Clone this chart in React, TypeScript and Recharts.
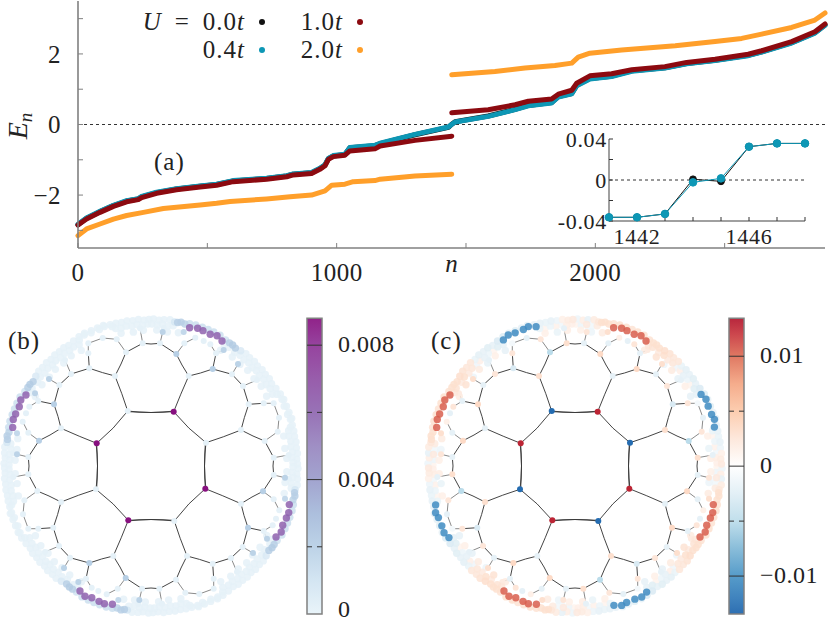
import {
  Area,
  ComposedChart,
  Legend,
  Line,
  ReferenceArea,
  ReferenceLine,
  Scatter,
  XAxis,
  YAxis,
} from 'recharts';

const FONT = '"Liberation Serif", serif';
const BLACK = '#111111';
const BLUE = '#0d97b5';
const RED = '#8c0a10';
const ORANGE = '#ff9f2a';
const GREY = '#808080';
const DARK = '#333333';

// panel (a): spectrum. null is the gap at half filling
const nU0 = [0, 33, 85, 137, 188, 233, 246, 304, 381, 472, 536, 600, 729, 807, 832, 903, 935, 955, 968, 987, 1032, 1051, 1148, 1168, 1303, 1432, 1444, 1458, 1586, 1690, 1741, 1831, 1857, 1909, 1928, 1979, 2063, 2141, 2269, 2353, 2463, 2591, 2643, 2759, 2849, 2888];
const eU0 = [-2.84, -2.66, -2.47, -2.3, -2.17, -2.11, -2.05, -1.93, -1.83, -1.75, -1.7, -1.6, -1.53, -1.46, -1.41, -1.37, -1.25, -1.15, -0.97, -0.89, -0.85, -0.66, -0.6, -0.54, -0.29, -0.08, 0, 0.08, 0.24, 0.43, 0.54, 0.62, 0.79, 0.88, 1.11, 1.3, 1.37, 1.52, 1.61, 1.73, 1.82, 1.96, 2.06, 2.32, 2.6, 2.82];
const eU04 = [-2.83, -2.65, -2.46, -2.29, -2.16, -2.1, -2.04, -1.92, -1.82, -1.74, -1.69, -1.59, -1.52, -1.45, -1.4, -1.36, -1.24, -1.14, -0.96, -0.88, -0.84, -0.65, -0.59, -0.53, -0.28, -0.07, 0, 0.07, 0.23, 0.42, 0.53, 0.61, 0.78, 0.87, 1.1, 1.29, 1.36, 1.51, 1.6, 1.72, 1.81, 1.95, 2.05, 2.31, 2.59, 2.81];
const nU1 = [0, 33, 85, 137, 188, 233, 246, 304, 381, 472, 536, 600, 729, 807, 832, 903, 935, 955, 968, 987, 1032, 1051, 1148, 1168, 1303, 1445, 1445, 1445, 1586, 1690, 1741, 1831, 1857, 1909, 1928, 1979, 2063, 2141, 2269, 2353, 2463, 2591, 2643, 2759, 2849, 2888];
const eU1 = [-2.85, -2.68, -2.49, -2.32, -2.19, -2.13, -2.07, -1.95, -1.85, -1.77, -1.72, -1.62, -1.55, -1.48, -1.43, -1.39, -1.27, -1.17, -0.99, -0.91, -0.87, -0.75, -0.69, -0.61, -0.45, -0.33, null, 0.33, 0.42, 0.56, 0.66, 0.72, 0.86, 0.97, 1.17, 1.38, 1.44, 1.55, 1.64, 1.76, 1.85, 1.99, 2.09, 2.35, 2.63, 2.85];
const nU2 = [0, 33, 85, 137, 188, 253, 330, 472, 536, 588, 729, 820, 903, 955, 981, 1032, 1064, 1148, 1168, 1303, 1445, 1445, 1445, 1612, 1728, 1844, 1909, 1934, 1979, 2102, 2309, 2463, 2566, 2643, 2759, 2849, 2888];
const eU2 = [-3.15, -2.96, -2.82, -2.68, -2.58, -2.49, -2.38, -2.28, -2.23, -2.18, -2.11, -2.05, -2.0, -1.88, -1.72, -1.69, -1.62, -1.59, -1.55, -1.46, -1.41, null, 1.41, 1.5, 1.6, 1.67, 1.74, 1.91, 2.02, 2.11, 2.23, 2.35, 2.44, 2.56, 2.75, 2.96, 3.16];

const mainXTicks = [0, 500, 1000, 1500, 2000, 2500];
const mainYTicks = [-3, -2, -1, 0, 1, 2, 3];

// inset of (a)
const insetN = [1441, 1442, 1443, 1444, 1445, 1446, 1447, 1448];
const insetU0 = [-0.0364, -0.0364, -0.0331, 0.0007, -0.0013, 0.0325, 0.0357, 0.0357];
const insetU04 = [-0.0364, -0.0364, -0.0331, -0.0023, 0.0016, 0.0325, 0.0357, 0.0357];
const insetXTicks = [1441, 1442, 1443, 1444, 1445, 1446, 1447, 1448];
const insetYTicks = [-0.04, -0.02, 0, 0.02, 0.04];

// lattice of (b) and (c): one quadrant, the picture repeats it under 90 degree turns
// [dx, dy, density, spin]
const latticeNodes = [
  [-23.3, -55, 0.0001, -0.0128],
  [-54.3, -22.7, 0.0088, 0.0128],
  [-36, -90, 0.0001, 0.003],
  [-90, -37.7, 0.0001, -0.002],
  [-61.7, -97.7, 0.0001, -0.003],
  [-25, -113.7, 0.0001, -0.005],
  [-97, -61.7, 0.002, 0.0035],
  [-112, -25.3, 0.002, 0.0035],
  [-8.3, -122.7, 0.0001, 0.003],
  [-122.7, -9, 0.0001, -0.002],
  [-62.7, -112.7, 0.0001, 0.0025],
  [-80, -92, 0.0001, 0.0025],
  [-91.7, -81, 0.0001, -0.002],
  [-112.7, -65, 0.0001, -0.002],
  [-122.7, -33.3, 0.0001, -0.002],
  [-134, -11.7, 0.0018, 0.0025],
  [-34.3, -126.7, 0.0001, 0.0025],
  [-11, -137.7, 0.0001, -0.002],
  [-48.3, -128, 0.0001, -0.002],
  [-62.7, -122.7, 0.0001, -0.001],
  [-86, -106, 0.0001, -0.002],
  [-102, -87, 0.0018, 0.003],
  [-116, -72.7, 0.0018, 0.002],
  [-121.7, -59.3, 0.0001, 0.0025],
  [-125, -52.7, 0.0001, -0.002],
  [-128.3, -44.3, 0.0001, 0.0015],
  [-134, -32.7, 0.0015, 0.003],
  [-138, -12.7, 0.0001, -0.001],
];

// rim of the disk: [angle from the left, radius, density, spin]
const rimNodes = [
  // outer row
  [1, 147, 0.0001, -0.0015], [3.2, 146, 0.0001, 0.0018], [5.1, 147, 0.0001, -0.002], [7.4, 147.5, 0.0001, 0.002],
  [9.3, 146, 0.0008, 0.0025], [10.5, 146, 0.002, 0.003], [11.8, 147, 0.002, 0.003], [13.4, 146, 0.0018, 0.003],
  [15.2, 147.5, 0.0012, 0.0028], [17.6, 148, 0.0012, 0.003], [20.3, 148, 0.0012, 0.003], [22.7, 148, 0.0012, 0.0028],
  [25.1, 148, 0.0012, 0.003], [27.8, 148, 0.0012, 0.003], [30.6, 146.5, 0.001, 0.0028], [32.5, 146, 0.002, 0.003],
  [34, 146, 0.0022, 0.003], [35.6, 145, 0.002, 0.003], [37.9, 146, 0.0006, 0.0032], [40.2, 147, 0.0001, 0.0028],
  [42.3, 146.5, 0.0001, 0.0025], [44.7, 147, 0.0001, 0.0025], [46.8, 146, 0.0001, -0.0018], [49.1, 147, 0.0001, -0.0022],
  [51.3, 146.5, 0.0001, -0.002], [53.6, 147, 0.0001, -0.0025], [55.7, 146, 0.0001, -0.002], [58.2, 147, 0.0001, -0.003],
  [60.9, 148, 0.0001, -0.0028], [63.4, 148.5, 0.0001, -0.002], [66.2, 148, 0.0001, -0.0025], [68.8, 148, 0.0001, -0.002],
  [71.3, 148.5, 0.0001, -0.0022], [73.9, 147, 0.0001, -0.002], [76.2, 147, 0.0001, -0.002], [78.4, 146.5, 0.0001, -0.0018],
  [80.6, 147, 0.0001, -0.002], [82.9, 146.5, 0.0001, -0.0015], [85.1, 147, 0.0001, 0.0015], [87.3, 146, 0.0001, 0.002],
  [89.2, 146.5, 0.0001, 0.0022],
  // second row
  [0.4, 142, 0.0001, 0.0012], [2.6, 141, 0.0001, -0.0015], [4.7, 142, 0.0001, 0.0022], [6.9, 141, 0.0001, -0.0012],
  [9, 142, 0.0001, 0.002], [31.4, 141, 0.0001, 0.0025], [33.2, 142, 0.0001, 0.0028], [36.4, 141, 0.0001, 0.0022],
  [38.8, 142, 0.0001, 0.003], [41.2, 141, 0.0001, 0.0022], [43.5, 142, 0.0001, 0.0025], [45.8, 141, 0.0001, -0.0014],
  [47.9, 142, 0.0001, 0.0016], [50.2, 141, 0.0001, -0.002], [52.4, 142, 0.0001, -0.0016], [54.8, 141, 0.0001, 0.0012],
  [57, 142, 0.0001, -0.0024], [59.4, 141, 0.0001, -0.002], [75.6, 142, 0.0001, -0.0018], [77.8, 141, 0.0001, 0.0012],
  [80, 142, 0.0001, -0.0016], [82.2, 141, 0.0001, 0.0014], [84.4, 142, 0.0001, -0.0012], [86.6, 141, 0.0001, 0.0018],
  [88.7, 142, 0.0001, 0.0016],
  // third row, broken by the last faces
  [2.4, 136, 0.0001, 0.0015], [7, 135, 0.0001, -0.0015], [11.6, 136, 0.0001, 0.002], [31, 135, 0.0001, 0.002],
  [36.7, 136, 0.0001, 0.0028], [41.2, 135, 0.0001, -0.0015], [45.3, 136, 0.0001, 0.002], [49.7, 135, 0.0001, -0.002],
  [54.1, 136, 0.0001, 0.0015], [58.9, 135, 0.0001, -0.002], [77.3, 136, 0.0001, 0.0015], [82.5, 135, 0.0001, -0.0018],
  [86.8, 136, 0.0001, 0.0018],
  // the bright clusters
  [29.6, 143.8, 0.0062, 0.0105], [26.9, 146, 0.0062, 0.0105], [24.2, 144.4, 0.0062, 0.0105],
  [21, 145, 0.0062, 0.0105], [18.7, 145.4, 0.0062, 0.0105], [15.6, 143.6, 0.0062, 0.0105],
  [60.4, 145, 0.0001, -0.0105], [63, 147, 0.0001, -0.0105], [65.8, 146, 0.0001, -0.0105],
  [69.3, 146, 0.0001, -0.0105], [71.5, 147, 0.0001, -0.0105], [74.4, 144.7, 0.0001, -0.0105],
];

// bonds of one quadrant as point lists [x1, y1, x2, y2, ...]; the long ones bow towards the centre
const innerBonds = [
  [-23.3, -55, -12, -53.9, 0, -53.5, 12, -53.9, 23.3, -55],
  [-23.3, -55, -37.9, -37.9, -54.3, -22.7],
  [-54.3, -22.7, -53.9, -12, -53.5, 0, -53.9, 12, -54.3, 22.7],
  [-23.3, -55, -29.2, -72.3, -36, -90],
  [-54.3, -22.7, -71.8, -29.8, -90, -37.7],
  [-36, -90, -48.5, -93.4, -61.7, -97.7],
  [-36, -90, -30, -102, -25, -113.7],
  [-90, -37.7, -93, -49.5, -97, -61.7],
  [-90, -37.7, -101, -31, -112, -25.3],
  [-25, -113.7, -8.3, -122.7],
  [-8.3, -122.7, 0, -122, 9, -122.7],
  [-112, -25.3, -122.7, -9],
  [-61.7, -97.7, -62.7, -112.7],
  [-61.7, -97.7, -80, -92],
  [-97, -61.7, -91.7, -81],
  [-97, -61.7, -112.7, -65],
  [-80, -92, -91.7, -81],
];
const outerBonds = [
  [-80, -92, -86, -106],
  [-91.7, -81, -102, -87],
  [-112, -25.3, -122.7, -33.3],
  [-112.7, -65, -121.7, -59.3],
  [-112.7, -65, -116, -72.7],
  [-122.7, -33.3, -128.3, -44.3],
  [-25, -113.7, -34.3, -126.7],
  [-34.3, -126.7, -48.3, -128],
  [-62.7, -112.7, -62.7, -122.7],
  [-62.7, -122.7, -48.3, -128],
  [-8.3, -122.7, -11, -137.7],
  [-122.7, -9, -134, -11.7],
];

// colour bars: [value, colour]
const densityStops = [
  [0, '#e7f3f9'], [0.001, '#d0e3f1'], [0.002, '#b7cfe5'], [0.003, '#a5b9da'], [0.004, '#9a9ccb'],
  [0.005, '#9785bf'], [0.006, '#8f66b0'], [0.007, '#8f4fa4'], [0.008, '#8d3396'], [0.0088, '#87107f'],
];
const spinStops = [
  [-0.01345, '#1b62ab'], [-0.012, '#2f78b8'], [-0.01, '#4793c5'], [-0.0075, '#7fb7d6'], [-0.005, '#bbdcea'],
  [-0.0025, '#e0eef5'], [0, '#ffffff'], [0.0025, '#fde6d9'], [0.005, '#fcc9a9'], [0.0075, '#f4a582'],
  [0.01, '#dd6d55'], [0.012, '#c8373e'], [0.01345, '#b2142c'],
];

const zip = (xs: number[], ys: (number | null)[], k = 'n') => xs.map((x, i) => ({ [k]: x, e: ys[i] }));

const hex = (c: string) => [1, 3, 5].map((i) => parseInt(c.slice(i, i + 2), 16));

function colorOf(v: number, stops: any[]) {
  if (v <= stops[0][0]) return stops[0][1];
  for (let i = 1; i < stops.length; i++) {
    if (v <= stops[i][0]) {
      const t = (v - stops[i - 1][0]) / (stops[i][0] - stops[i - 1][0]);
      const a = hex(stops[i - 1][1]);
      const b = hex(stops[i][1]);
      return `rgb(${a.map((p, j) => Math.round(p + (b[j] - p) * t)).join(',')})`;
    }
  }
  return stops[stops.length - 1][1];
}

const turn = (x: number, y: number, k: number) =>
  k === 0 ? [x, y] : k === 1 ? [-y, x] : k === 2 ? [-x, -y] : [y, -x];

const bondRows = (bonds: number[][]) =>
  [0, 1, 2, 3].flatMap((k) =>
    bonds.flatMap((bond) => {
      const rows: { x: number; y: number | null }[] = [];
      for (let i = 0; i < bond.length; i += 2) {
        const [x, y] = turn(bond[i], bond[i + 1], k);
        rows.push({ x, y });
      }
      rows.push({ x: rows[rows.length - 1].x, y: null });
      return rows;
    }),
  );

const nodeRows = (column: number, stops: any[]) => {
  const rim = rimNodes.map(([th, r, b, c]) => {
    const a = (th * Math.PI) / 180;
    return { x: -r * Math.cos(a), y: -r * Math.sin(a), v: column === 2 ? b : c, r: 3.7, rim: true };
  });
  const inner = latticeNodes.map(([x, y, b, c]) => ({ x, y, v: column === 2 ? b : c, r: 3, rim: false }));
  const quadrant = [...rim, ...inner];
  return [0, 1, 2, 3]
    .flatMap((k) =>
      quadrant.map((p) => {
        const [x, y] = turn(p.x, p.y, k);
        return { ...p, x, y, fill: colorOf(p.v, stops) };
      }),
    )
    .sort((p, q) => Math.abs(p.v) - Math.abs(q.v));
};

const tickStyle = { fontFamily: FONT, fontSize: 25, fill: '#222', letterSpacing: 0.5 };

const minus = (v: number) => String(v).replace('-', '\u2212');

function LegendBox({ payload }: any) {
  const spots = [
    { right: 245, dot: 262, top: 22 },
    { right: 245, dot: 262, top: 49.5 },
    { right: 343, dot: 360, top: 22 },
    { right: 343, dot: 360, top: 49.5 },
  ];
  return (
    <div style={{ position: 'relative', fontFamily: FONT, fontSize: 25, color: '#222', letterSpacing: 1 }}>
      {(payload || []).map((entry: any, i: number) => (
        <div key={entry.value}>
          <div
            style={{
              position: 'absolute',
              left: spots[i].right - 140,
              width: 140,
              top: spots[i].top - 15,
              lineHeight: '30px',
              textAlign: 'right',
              whiteSpace: 'nowrap',
            }}
          >
            {i === 0 ? (
              <>
                <i>U</i>
                <span style={{ margin: '0 13px' }}>=</span>
              </>
            ) : null}
            {entry.value.slice(0, -1)}
            <i>t</i>
          </div>
          <div
            style={{
              position: 'absolute',
              left: spots[i].dot - 3,
              top: spots[i].top - 3,
              width: 6,
              height: 6,
              borderRadius: 3,
              background: entry.color,
            }}
          />
        </div>
      ))}
    </div>
  );
}

function MainPanel() {
  return (
    <div style={{ position: 'absolute', left: 0, top: 0 }}>
      <ComposedChart width={830} height={300} margin={{ top: 1, right: 5, bottom: 0, left: 0 }}>
        <XAxis
          xAxisId="b"
          dataKey="n"
          type="number"
          domain={[0, 2888]}
          ticks={mainXTicks}
          interval={0}
          height={52}
          tickSize={-5}
          tickMargin={20}
          tick={tickStyle}
          tickLine={{ stroke: GREY }}
          axisLine={{ stroke: GREY, strokeWidth: 1.6 }}
          tickFormatter={(v: number) => (v % 1000 === 0 ? String(v) : '')}
          label={{
            value: 'n',
            position: 'insideBottom',
            offset: 28,
            style: { fontFamily: FONT, fontSize: 25, fontStyle: 'italic', fill: '#222' },
          }}
        />
        <XAxis
          xAxisId="t"
          orientation="top"
          dataKey="n"
          type="number"
          domain={[0, 2888]}
          ticks={mainXTicks}
          interval={0}
          height={0}
          tickSize={-5}
          tick={false}
          tickLine={{ stroke: GREY }}
          axisLine={{ stroke: DARK, strokeWidth: 1 }}
        />
        <YAxis
          yAxisId="l"
          domain={[-3.5, 3.5]}
          ticks={mainYTicks}
          interval={0}
          width={78}
          tickSize={-5}
          tickMargin={22}
          tick={tickStyle}
          tickLine={{ stroke: GREY }}
          axisLine={{ stroke: GREY, strokeWidth: 1.6 }}
          tickFormatter={(v: number) => (v % 2 === 0 ? minus(v) : '')}
          label={{
            content: () => (
              <text
                transform="rotate(-90 27 126)"
                x={27}
                y={126}
                textAnchor="middle"
                fontFamily={FONT}
                fontSize={28}
                fill="#222"
              >
                <tspan fontStyle="italic">E</tspan>
                <tspan fontStyle="italic" fontSize={19} dy={5}>
                  n
                </tspan>
              </text>
            ),
          }}
        />
        <YAxis
          yAxisId="r"
          orientation="right"
          domain={[-3.5, 3.5]}
          ticks={mainYTicks}
          interval={0}
          width={0}
          tickSize={-5}
          tick={false}
          tickLine={{ stroke: GREY }}
          axisLine={{ stroke: GREY, strokeWidth: 1 }}
        />
        <ReferenceLine xAxisId="b" yAxisId="l" y={0} stroke={DARK} strokeDasharray="3 3" />
        {[
          { name: '0.0t', color: BLACK, data: zip(nU0, eU0) },
          { name: '0.4t', color: BLUE, data: zip(nU0, eU04) },
          { name: '1.0t', color: RED, data: zip(nU1, eU1) },
          { name: '2.0t', color: ORANGE, data: zip(nU2, eU2) },
        ].map((s) => (
          <Line
            key={s.name}
            xAxisId="b"
            yAxisId="l"
            name={s.name}
            data={s.data}
            dataKey="e"
            stroke={s.color}
            strokeWidth={5}
            strokeLinecap="round"
            strokeLinejoin="round"
            dot={false}
            activeDot={false}
            isAnimationActive={false}
          />
        ))}
        <Legend
          layout="horizontal"
          verticalAlign="middle"
          align="center"
          wrapperStyle={{ left: 0, top: 0, width: 830, height: 0 }}
          content={(props: any) => <LegendBox {...props} />}
        />
      </ComposedChart>
    </div>
  );
}

function InsetPanel() {
  const insetTick = { fontFamily: FONT, fontSize: 22, fill: '#222', letterSpacing: 0.7 };
  return (
    <div style={{ position: 'absolute', left: 540, top: 110 }}>
      <ComposedChart width={290} height={150} margin={{ top: 29, right: 25, bottom: 0, left: 0 }}>
        <XAxis
          xAxisId="b"
          dataKey="n"
          type="number"
          domain={[1441, 1448]}
          ticks={insetXTicks}
          interval={0}
          height={39}
          tickSize={-4}
          tickMargin={11}
          tick={insetTick}
          tickLine={{ stroke: DARK }}
          axisLine={{ stroke: GREY, strokeWidth: 1.5 }}
          tickFormatter={(v: number) => (v === 1442 || v === 1446 ? String(v) : '')}
        />
        <XAxis
          xAxisId="t"
          orientation="top"
          dataKey="n"
          type="number"
          domain={[1441, 1448]}
          ticks={insetXTicks}
          interval={0}
          height={0}
          tickSize={-4}
          tick={false}
          tickLine={{ stroke: DARK }}
          axisLine={{ stroke: DARK, strokeWidth: 1 }}
        />
        <YAxis
          yAxisId="l"
          domain={[-0.04, 0.04]}
          ticks={insetYTicks}
          interval={0}
          width={69}
          tickSize={-4}
          tickMargin={9}
          tick={{ ...insetTick, dx: 3 }}
          tickLine={{ stroke: DARK }}
          axisLine={{ stroke: GREY, strokeWidth: 1.5 }}
          tickFormatter={(v: number) => (Math.abs(v) === 0.02 ? '' : String(v))}
        />
        <YAxis
          yAxisId="r"
          orientation="right"
          domain={[-0.04, 0.04]}
          ticks={insetYTicks}
          interval={0}
          width={0}
          tickSize={-4}
          tick={false}
          tickLine={{ stroke: DARK }}
          axisLine={{ stroke: DARK, strokeWidth: 1 }}
        />
        <ReferenceLine xAxisId="b" yAxisId="l" y={0} stroke={DARK} strokeDasharray="3 3" />
        <Line
          xAxisId="b"
          yAxisId="l"
          data={zip(insetN, insetU0)}
          dataKey="e"
          stroke={BLACK}
          strokeWidth={1}
          dot={{ r: 3.4, fill: BLACK, stroke: BLACK }}
          activeDot={false}
          isAnimationActive={false}
        />
        <Line
          xAxisId="b"
          yAxisId="l"
          data={zip(insetN, insetU04)}
          dataKey="e"
          stroke={BLUE}
          strokeWidth={1}
          dot={{ r: 3.8, fill: BLUE, stroke: BLUE }}
          activeDot={false}
          isAnimationActive={false}
        />
      </ComposedChart>
    </div>
  );
}

function Disk({ left, column, stops }: { left: number; column: number; stops: any[] }) {
  return (
    <div style={{ position: 'absolute', left, top: 315 }}>
      <ComposedChart width={302} height={302} margin={{ top: 0, right: 0, bottom: 0, left: 0 }}>
        <XAxis dataKey="x" type="number" domain={[-151, 151]} hide />
        <YAxis dataKey="y" type="number" domain={[-151, 151]} reversed hide />
        <Line
          data={bondRows(innerBonds)}
          dataKey="y"
          stroke="#3a3a3a"
          strokeWidth={0.95}
          dot={false}
          activeDot={false}
          isAnimationActive={false}
        />
        <Line
          data={bondRows(outerBonds)}
          dataKey="y"
          stroke="#3a3a3a"
          strokeWidth={0.6}
          dot={false}
          activeDot={false}
          isAnimationActive={false}
        />
        <Scatter
          data={nodeRows(column, stops)}
          dataKey="y"
          isAnimationActive={false}
          shape={(p: any) => (
            <circle cx={p.cx} cy={p.cy} r={p.payload.r} fill={p.payload.fill} fillOpacity={p.payload.rim ? 0.85 : 1} />
          )}
        />
      </ComposedChart>
    </div>
  );
}

function ColorBar({
  id,
  left,
  stops,
  ticks,
  major,
  minor,
}: {
  id: string;
  left: number;
  stops: any[];
  ticks: number[];
  major: number[];
  minor: number[];
}) {
  const lo = stops[0][0];
  const hi = stops[stops.length - 1][0];
  const band = [
    { x: 0, span: [lo, hi] },
    { x: 1, span: [lo, hi] },
  ];
  return (
    <div style={{ position: 'absolute', left, top: 300 }}>
      <ComposedChart width={120} height={323} margin={{ top: 18.3, right: 0, bottom: 9, left: 7 }}>
        <defs>
          <linearGradient id={id} x1="0" y1="0" x2="0" y2="1">
            {[...stops].reverse().map(([v, c]) => (
              <stop key={v} offset={(hi - v) / (hi - lo)} stopColor={c} stopOpacity={0.92} />
            ))}
          </linearGradient>
        </defs>
        <XAxis dataKey="x" type="number" domain={[0, 1]} hide />
        <YAxis
          orientation="right"
          domain={[lo, hi]}
          ticks={ticks}
          interval={0}
          width={98}
          tickLine={false}
          axisLine={false}
          tickSize={0}
          tickMargin={16}
          tick={(p: any) => (
            // the label at the very foot of the bar is lifted so it stays on the page
            <text
              x={p.x}
              y={p.y + (p.payload.value === lo ? 3 : 7)}
              fontFamily={FONT}
              fontSize={24}
              fill="#222"
              letterSpacing={0.5}
            >
              {minus(p.payload.value)}
            </text>
          )}
        />
        <Area data={band} dataKey="span" stroke="none" fill={`url(#${id})`} fillOpacity={1} isAnimationActive={false} />
        {minor.map((v) => (
          <ReferenceLine key={v} y={v} stroke={DARK} strokeDasharray="5 5 5" />
        ))}
        {major.map((v) => (
          <ReferenceLine key={v} y={v} stroke={DARK} />
        ))}
        <ReferenceArea x1={0} x2={1} y1={lo} y2={hi} fill="none" stroke={GREY} strokeWidth={1.5} fillOpacity={0} />
      </ComposedChart>
    </div>
  );
}

function Tag({ x, y, children }: { x: number; y: number; children: any }) {
  return (
    <div
      style={{
        position: 'absolute',
        left: x,
        top: y,
        fontFamily: FONT,
        fontSize: 25,
        lineHeight: '30px',
        color: '#222',
        letterSpacing: 1,
      }}
    >
      {children}
    </div>
  );
}

export default function App() {
  return (
    <div style={{ position: 'absolute', left: 0, top: 0, width: 830, height: 623, background: '#fff', overflow: 'hidden' }}>
      <MainPanel />
      <InsetPanel />
      <Disk left={0} column={2} stops={densityStops} />
      <Disk left={424} column={3} stops={spinStops} />
      <ColorBar id="densityBar" left={300} stops={densityStops} ticks={[0, 0.004, 0.008]} major={[0.004, 0.008]} minor={[0.002, 0.006]} />
      <ColorBar id="spinBar" left={722} stops={spinStops} ticks={[-0.01, 0, 0.01]} major={[-0.01, 0, 0.01]} minor={[-0.005, 0.005]} />
      <Tag x={154} y={147}>(a)</Tag>
      <Tag x={8} y={326}>(b)</Tag>
      <Tag x={431} y={326}>(c)</Tag>
    </div>
  );
}
